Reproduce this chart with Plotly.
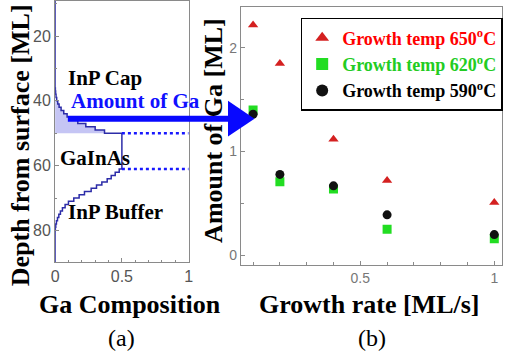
import plotly.graph_objects as go

W, H = 511, 361

# ---------------- data: panel (a) Ga composition profile ----------------
depth_ml = [9, 36, 37, 38, 39, 40, 41, 42, 43, 44, 45, 46, 47, 48, 49, 50,
            61, 62, 63, 64, 65, 66, 67, 68, 69, 70, 71, 72, 73, 74, 75, 76, 77, 78, 79, 80, 90]
ga_comp = [0, 0.002, 0.004, 0.007, 0.012, 0.02, 0.03, 0.045, 0.065, 0.09, 0.125, 0.17, 0.23, 0.30, 0.37, 0.5,
           0.48, 0.45, 0.42, 0.39, 0.35, 0.31, 0.27, 0.22, 0.18, 0.14, 0.10, 0.075, 0.055, 0.04, 0.028, 0.018,
           0.01, 0.005, 0.002, 0, 0]
gainas_bounds = [50, 61]          # depth of GaInAs layer top / bottom [ML]
fill_depth_range = [40, 50]       # segregated Ga region shaded

# ---------------- data: panel (b) amount of Ga vs growth rate ----------------
growth_rate = [0.1, 0.2, 0.4, 0.6, 1.0]
ga_650 = [2.22, 1.85, 1.12, 0.72, 0.51]
ga_620 = [1.40, 0.71, 0.64, 0.25, 0.16]
ga_590 = [1.36, 0.78, 0.67, 0.39, 0.20]

SERIF = "Times New Roman, Liberation Serif, Times, serif"
SANS = "Liberation Sans, Arial, Helvetica, sans-serif"


def px(x):
    return x / W


def py(y):
    return 1 - y / H


fig = go.Figure()

# shaded region (Ga segregated into cap)
fd, fc = [], []
for d, c in zip(depth_ml, ga_comp):
    if fill_depth_range[0] <= d < fill_depth_range[1]:
        fd.append(d)
        fc.append(c)
fig.add_trace(go.Scatter(x=[0] + fc + [0], y=[fill_depth_range[0]] + fd + [fill_depth_range[1]],
                         mode="lines", line=dict(width=0, shape="vh"), fill="toself",
                         fillcolor="rgba(150,150,235,0.55)", showlegend=False, hoverinfo="skip",
                         xaxis="x", yaxis="y"))
# profile
fig.add_trace(go.Scatter(x=ga_comp, y=depth_ml, mode="lines",
                         line=dict(color="#2c2ca8", width=1.5, shape="vh"),
                         showlegend=False, xaxis="x", yaxis="y"))
# dotted boundaries of GaInAs
for b in gainas_bounds:
    fig.add_trace(go.Scatter(x=[0.5, 1.0], y=[b, b], mode="lines",
                             line=dict(color="#1818ff", width=2.5, dash="dot"),
                             showlegend=False, xaxis="x", yaxis="y"))

# panel (b)
fig.add_trace(go.Scatter(x=growth_rate, y=ga_650, mode="markers", xaxis="x2", yaxis="y2",
                         marker=dict(symbol="triangle-up", size=9, color="#d42020"),
                         name="<span style='color:#ff0000'><b>Growth temp 650<sup>o</sup>C</b></span>",
                         legendrank=1))
fig.add_trace(go.Scatter(x=growth_rate, y=ga_620, mode="markers", xaxis="x2", yaxis="y2",
                         marker=dict(symbol="square", size=9, color="#22dd22"),
                         name="<span style='color:#22cc22'><b>Growth temp 620<sup>o</sup>C</b></span>",
                         legendrank=2))
fig.add_trace(go.Scatter(x=growth_rate, y=ga_590, mode="markers", xaxis="x2", yaxis="y2",
                         marker=dict(symbol="circle", size=9, color="#111111"),
                         name="<span style='color:#000000'><b>Growth temp 590<sup>o</sup>C</b></span>",
                         legendrank=3))

axcol = "#8a8a8a"
fig.update_layout(
    width=W, height=H, margin=dict(l=0, r=0, t=0, b=0),
    paper_bgcolor="white", plot_bgcolor="white",
    xaxis=dict(domain=[px(52), px(188)], range=[0, 1], tickvals=[0, 0.5, 1], ticktext=["0", "0.5", "1"],
               ticks="inside", ticklen=4, tickcolor=axcol, showgrid=False, zeroline=False,
               showline=True, linecolor=axcol, mirror=True,
               minor=dict(ticks="inside", dtick=0.1, ticklen=2, tickcolor=axcol),
               tickfont=dict(family=SANS, size=16, color="#555555"), anchor="y"),
    yaxis=dict(domain=[py(262), 1], range=[89.8, 9.2], tickvals=[20, 40, 60, 80],
               ticks="inside", ticklen=4, tickcolor=axcol, showgrid=False, zeroline=False,
               showline=True, linecolor=axcol, mirror=True,
               minor=dict(ticks="inside", dtick=10, ticklen=2, tickcolor=axcol),
               tickfont=dict(family=SANS, size=16, color="#555555"), anchor="x"),
    xaxis2=dict(domain=[px(241), px(507)], range=[0.054, 1.029], tickvals=[0.5, 1], ticktext=["0.5", "1"],
                ticks="inside", ticklen=4, tickcolor=axcol, showgrid=False, zeroline=False,
                showline=True, linecolor=axcol, mirror=True,
                minor=dict(ticks="inside", dtick=0.1, ticklen=3, tickcolor=axcol),
                tickfont=dict(family=SANS, size=14, color="#777777"), anchor="y2"),
    yaxis2=dict(domain=[py(265), py(6)], range=[-0.096, 2.394], tickvals=[0, 1, 2],
                ticks="inside", ticklen=4, tickcolor=axcol, showgrid=False, zeroline=False,
                showline=True, linecolor=axcol, mirror=True,
                minor=dict(ticks="inside", dtick=0.5, ticklen=3, tickcolor=axcol),
                tickfont=dict(family=SANS, size=14, color="#777777"), anchor="x2"),
    legend=dict(x=px(302), y=py(17), xanchor="left", yanchor="top",
                bgcolor="white", bordercolor="black", borderwidth=1.5,
                font=dict(family=SERIF, size=18), itemsizing="constant",
                tracegroupgap=0),
    showlegend=True,
)

# arrow (decoration) from the shaded region to the 0.1 ML/s point
fig.add_shape(type="line", xref="paper", yref="paper", x0=px(65), y0=py(118), x1=px(232), y1=py(118),
              line=dict(color="#0808ff", width=6))
fig.add_shape(type="path", xref="paper", yref="paper",
              path=f"M {px(228)},{py(100)} L {px(255)},{py(118)} L {px(228)},{py(136)} Z",
              fillcolor="#0808ff", line=dict(width=0))

def ann(text, x, y, size, color="black", angle=0, bold=True):
    fig.add_annotation(text=f"<b>{text}</b>" if bold else text, xref="paper", yref="paper",
                       x=px(x), y=py(y), xanchor="center", yanchor="middle", showarrow=False,
                       textangle=angle, font=dict(family=SERIF, size=size, color=color))

ann("InP Cap", 103, 77, 21)
ann("Amount of Ga", 134, 100, 21, color="#1010ff")
ann("GaInAs", 93, 157, 21)
ann("InP Buffer", 113, 212, 21)
ann("Depth from surface [ML]", 17, 145, 26, angle=-90)
ann("Ga Composition", 128, 304, 26)
ann("(a)", 120, 338, 24, bold=False)
ann("Amount of Ga [ML]", 213, 130, 26, angle=-90)
ann("Growth rate [ML/s]", 372, 304, 26)
ann("(b)", 375, 338, 24, bold=False)

fig.write_html("out.html")
